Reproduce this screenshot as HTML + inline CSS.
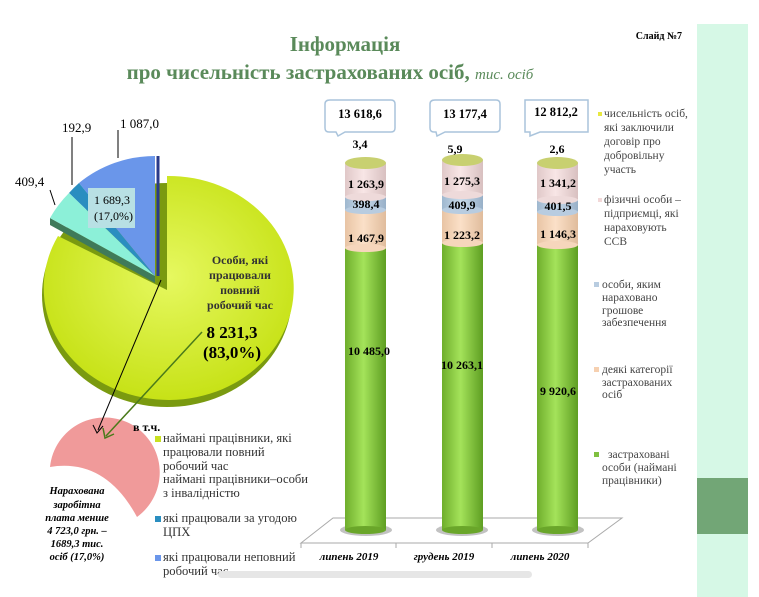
<!DOCTYPE html>
<html><head><meta charset="utf-8"><style>
html,body{margin:0;padding:0;background:#fff;}
svg{display:block;font-family:"Liberation Serif",serif;}
</style></head><body>
<svg width="759" height="597" viewBox="0 0 759 597" xmlns="http://www.w3.org/2000/svg">
<defs>
<linearGradient id="g" x1="0" x2="1"><stop offset="0" stop-color="#6fae2c"/><stop offset="0.45" stop-color="#a4e35a"/><stop offset="1" stop-color="#5e9e22"/></linearGradient>
<linearGradient id="pk" x1="0" x2="1"><stop offset="0" stop-color="#e0c8c8"/><stop offset="0.45" stop-color="#f8e6e6"/><stop offset="1" stop-color="#d8c0c0"/></linearGradient>
<linearGradient id="bl" x1="0" x2="1"><stop offset="0" stop-color="#9fb8cf"/><stop offset="0.45" stop-color="#c8daea"/><stop offset="1" stop-color="#98b0c8"/></linearGradient>
<linearGradient id="pe" x1="0" x2="1"><stop offset="0" stop-color="#e8c4a4"/><stop offset="0.45" stop-color="#fbe0c8"/><stop offset="1" stop-color="#e0bc9c"/></linearGradient>
<radialGradient id="yg" cx="0.5" cy="0.45" r="0.6"><stop offset="0" stop-color="#e6f860"/><stop offset="1" stop-color="#c4e010"/></radialGradient>
</defs>
<rect x="697" y="24" width="51" height="573" fill="#d6f8e6"/>
<rect x="697" y="478" width="51" height="56" fill="#72a676"/>
<text x="682" y="39" font-size="10" font-weight="bold" text-anchor="end">Слайд №7</text>
<text x="345" y="51" font-size="21" font-weight="bold" fill="#5a8a5a" text-anchor="middle">Інформація</text>
<text x="330" y="79" font-size="21" font-weight="bold" fill="#5a8a5a" text-anchor="middle">про чисельність застрахованих осіб, <tspan font-weight="normal" font-style="italic" font-size="15">тис. осіб</tspan></text>

<ellipse cx="167" cy="295" rx="125" ry="112" fill="#7a9a10"/>
<path d="M167,290 L167,176 A125,112 0 1 1 58,236 Z" fill="url(#yg)"/>
<path d="M155,283 L50,225 L50,218 L155,276 Z" fill="#3f7a5a"/>
<path d="M155,276 L79,183 A120,120 0 0 1 155,156 Z" fill="#6a96ea"/>
<path d="M155,276 L69,193 A120,120 0 0 1 79,183 Z" fill="#2a8ec0"/>
<path d="M155,276 L50,218 A120,120 0 0 1 69,193 Z" fill="#8cf0d8"/>
<line x1="158" y1="156" x2="158" y2="276" stroke="#2a3a8a" stroke-width="3"/>
<rect x="88" y="188" width="47" height="40" fill="#b8e0e4"/>
<text x="94" y="204" font-size="12">1 689,3</text>
<text x="94" y="220" font-size="12">(17,0%)</text>
<text x="15" y="186" font-size="13">409,4</text>
<line x1="50" y1="190" x2="55" y2="205" stroke="#000"/>
<text x="62" y="132" font-size="13">192,9</text>
<line x1="72" y1="137" x2="72" y2="185" stroke="#000"/>
<text x="120" y="128" font-size="13">1 087,0</text>
<line x1="118" y1="130" x2="118" y2="158" stroke="#000"/>
<g font-size="12" font-weight="bold" fill="#333" text-anchor="middle">
<text x="240" y="264">Особи, які</text><text x="240" y="279">працювали</text><text x="240" y="294">повний</text><text x="240" y="309">робочий час</text></g>
<text x="232" y="338" font-size="17" font-weight="bold" text-anchor="middle">8 231,3</text>
<text x="232" y="358" font-size="17" font-weight="bold" text-anchor="middle">(83,0%)</text>
<path d="M50,467 A55,55 0 1 1 137,517 Q105,458 50,467 Z" fill="#f09a9a"/>
<line x1="161" y1="280" x2="98" y2="430" stroke="#000" stroke-width="1"/>
<path d="M93,425 L97,433 L103,426" fill="none" stroke="#000"/>
<line x1="202" y1="332" x2="106" y2="436" stroke="#4a7a1a" stroke-width="1.5"/>
<path d="M103,428 L105,438 L114,434" fill="none" stroke="#4a7a1a" stroke-width="1.5"/>
<g font-size="10.5" font-weight="bold" font-style="italic" text-anchor="middle">
<text x="77" y="494">Нарахована</text><text x="77" y="508">заробітна</text><text x="77" y="521">плата менше</text><text x="77" y="534">4 723,0 грн. –</text><text x="77" y="547">1689,3 тис.</text><text x="77" y="560">осіб (17,0%)</text></g>
<text x="133" y="431" font-size="12" font-weight="bold">в т.ч.</text>
<g font-size="12.6" fill="#333">
<rect x="155" y="436" width="6" height="6" fill="#c8e020"/>
<text x="163" y="442">наймані працівники, які</text><text x="163" y="456">працювали повний</text><text x="163" y="470">робочий час</text>
<text x="163" y="483">наймані працівники–особи</text><text x="163" y="497">з інвалідністю</text>
<rect x="155" y="516" width="6" height="6" fill="#2a8ec0"/>
<text x="163" y="522">які працювали за угодою</text><text x="163" y="536">ЦПХ</text>
<rect x="155" y="555" width="6" height="6" fill="#6a96ea"/>
<text x="163" y="561">які працювали неповний</text><text x="163" y="575">робочий час</text></g>
<rect x="218" y="571" width="314" height="7" rx="3.5" fill="#e6e6e6"/>

<path d="M301,543 L333,518 L622,518 L588,543 Z" fill="#fff" stroke="#aaa"/>
<line x1="301" y1="543" x2="301" y2="548" stroke="#aaa"/><line x1="396" y1="543" x2="396" y2="548" stroke="#aaa"/><line x1="492" y1="543" x2="492" y2="548" stroke="#aaa"/><line x1="588" y1="543" x2="588" y2="548" stroke="#aaa"/>
<g font-size="11" font-weight="bold" font-style="italic" text-anchor="middle">
<text x="349" y="560">липень 2019</text><text x="444" y="560">грудень 2019</text><text x="540" y="560">липень 2020</text></g>

<g>
<ellipse cx="366" cy="530" rx="26" ry="6" fill="#999" opacity="0.6"/>
<rect x="345" y="248" width="41" height="282" fill="url(#g)"/><ellipse cx="365.5" cy="530" rx="20.5" ry="4" fill="#6aa62a"/>
<rect x="345" y="210" width="41" height="38" fill="url(#pe)"/><ellipse cx="365.5" cy="248" rx="20.5" ry="4" fill="#f6d6bc"/>
<rect x="345" y="197" width="41" height="13" fill="url(#bl)"/><ellipse cx="365.5" cy="210" rx="20.5" ry="4" fill="#b8cce0"/>
<rect x="345" y="163" width="41" height="34" fill="url(#pk)"/><ellipse cx="365.5" cy="197" rx="20.5" ry="4" fill="#eedada"/>
<ellipse cx="365.5" cy="163" rx="20.5" ry="6" fill="#c8d070"/>
</g>
<g>
<ellipse cx="462" cy="530" rx="26" ry="6" fill="#999" opacity="0.6"/>
<rect x="442" y="243" width="41" height="287" fill="url(#g)"/><ellipse cx="462.5" cy="530" rx="20.5" ry="4" fill="#6aa62a"/>
<rect x="442" y="210" width="41" height="33" fill="url(#pe)"/><ellipse cx="462.5" cy="243" rx="20.5" ry="4" fill="#f6d6bc"/>
<rect x="442" y="195" width="41" height="15" fill="url(#bl)"/><ellipse cx="462.5" cy="210" rx="20.5" ry="4" fill="#b8cce0"/>
<rect x="442" y="160" width="41" height="35" fill="url(#pk)"/><ellipse cx="462.5" cy="195" rx="20.5" ry="4" fill="#eedada"/>
<ellipse cx="462.5" cy="160" rx="20.5" ry="6" fill="#c8d070"/>
</g>
<g>
<ellipse cx="558" cy="530" rx="26" ry="6" fill="#999" opacity="0.6"/>
<rect x="537" y="245" width="41" height="285" fill="url(#g)"/><ellipse cx="557.5" cy="530" rx="20.5" ry="4" fill="#6aa62a"/>
<rect x="537" y="212" width="41" height="33" fill="url(#pe)"/><ellipse cx="557.5" cy="245" rx="20.5" ry="4" fill="#f6d6bc"/>
<rect x="537" y="200" width="41" height="12" fill="url(#bl)"/><ellipse cx="557.5" cy="212" rx="20.5" ry="4" fill="#b8cce0"/>
<rect x="537" y="163" width="41" height="37" fill="url(#pk)"/><ellipse cx="557.5" cy="200" rx="20.5" ry="4" fill="#eedada"/>
<ellipse cx="557.5" cy="163" rx="20.5" ry="6" fill="#c8d070"/>
</g>
<g font-size="12" font-weight="bold" text-anchor="middle">
<text x="366" y="188">1 263,9</text><text x="366" y="208">398,4</text><text x="366" y="242">1 467,9</text><text x="369" y="355">10 485,0</text>
<text x="462" y="185">1 275,3</text><text x="462" y="209">409,9</text><text x="462" y="239">1 223,2</text><text x="462" y="369">10 263,1</text>
<text x="558" y="187">1 341,2</text><text x="558" y="210">401,5</text><text x="558" y="238">1 146,3</text><text x="558" y="395">9 920,6</text>
<text x="360" y="148">3,4</text><text x="455" y="153">5,9</text><text x="557" y="153">2,6</text></g>
<path d="M330,100 L391,100 Q395,100 395,104 L395,128 Q395,132 391,132 L345,132 L338,136 L336,132 L329,132 Q325,132 325,128 L325,104 Q325,100 330,100 Z" fill="#fff" stroke="#aac4dc" stroke-width="1.5"/>
<path d="M435,100 L496,100 Q500,100 500,104 L500,128 Q500,132 496,132 L445,132 L437,136 L436,132 L434,132 Q430,132 430,128 L430,104 Q430,100 435,100 Z" fill="#fff" stroke="#aac4dc" stroke-width="1.5"/>
<path d="M525,100 L588,100 L588,132 L540,132 L530,136 L530,132 L525,132 Z" fill="#fff" stroke="#aac4dc" stroke-width="1.5"/>
<g font-size="12.5" font-weight="bold" text-anchor="middle"><text x="360" y="118">13 618,6</text><text x="465" y="118">13 177,4</text><text x="556" y="116">12 812,2</text></g>
<g font-size="11.5" fill="#444">
<rect x="598" y="112" width="4" height="4" fill="#e8e840"/>
<text x="604" y="117">чисельність осіб,</text><text x="604" y="131">які заключили</text><text x="604" y="145">договір про</text><text x="604" y="159">добровільну</text><text x="604" y="173">участь</text>
<rect x="598" y="198" width="4" height="4" fill="#f2d8d8"/>
<text x="604" y="203">фізичні особи –</text><text x="604" y="217">підприємці, які</text><text x="604" y="231">нараховують</text><text x="604" y="245">ССВ</text>
<rect x="594" y="282" width="5" height="5" fill="#b8cce0"/>
<text x="602" y="288">особи, яким</text><text x="602" y="301">нараховано</text><text x="602" y="314">грошове</text><text x="602" y="326">забезпечення</text>
<rect x="594" y="367" width="5" height="5" fill="#f6d0b0"/>
<text x="602" y="373">деякі категорії</text><text x="602" y="386">застрахованих</text><text x="602" y="398">осіб</text>
<rect x="594" y="452" width="5" height="5" fill="#80c040"/>
<text x="608" y="458">застраховані</text><text x="602" y="471">особи (наймані</text><text x="602" y="484">працівники)</text></g>
</svg>
</body></html>
